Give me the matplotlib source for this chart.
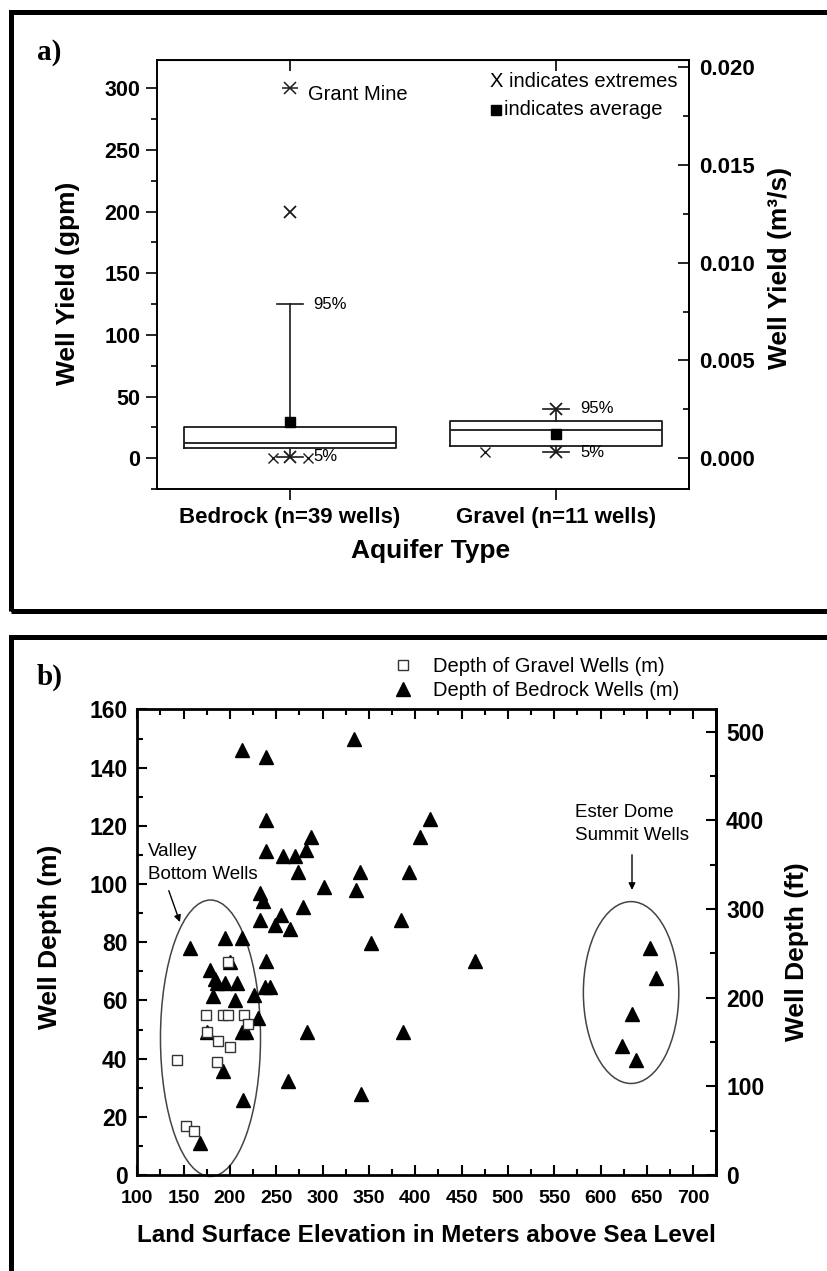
import numpy as np
import matplotlib
matplotlib.use('Agg')
import matplotlib.pyplot as plt
from matplotlib.patches import Ellipse, Rectangle
from matplotlib.ticker import MultipleLocator, FormatStrFormatter

plt.rcParams['font.family'] = ['Liberation Sans', 'DejaVu Sans']

# ---- panel a: well yield by aquifer type (gpm) ----
aquifers = ['Bedrock (n=39 wells)', 'Gravel (n=11 wells)']
positions = [1, 2]
p5 = [1, 5]
q25 = [8, 10]
median = [12, 23]
q75 = [25, 30]
p95 = [125, 40]
mean_yield = [29, 20]
# single extreme wells, drawn as x
ext_x = [0.935, 1.066, 1.0, 1.733]
ext_y = [0, 0, 200, 5]
grant_mine = 300

GPM_TO_M3S = 6.309e-5
M_TO_FT = 1 / 0.3048

# ---- panel b: well depth vs. land surface elevation ----
gravel_elev = [198, 174, 193, 198, 215, 220, 175, 187, 200, 185.5, 143, 153, 161]
gravel_depth = [73.3, 55, 55, 55, 55, 52, 49, 46, 44, 38.7, 39.5, 17, 15]

bedrock_elev = [213, 239, 333.5, 239, 239, 257, 270, 287, 282.5, 274, 302, 232, 236, 279,
                340, 336, 393, 405, 416, 385, 255.6, 232, 249, 264.5, 157, 194.5, 212.5,
                352, 464, 239.4, 200, 178, 183.7, 185.5, 194.5, 208, 237.6, 243.7, 182,
                205, 226, 230, 175, 212.5, 217, 283, 386.6, 192.7, 263, 341.4, 214, 167.6,
                653.5, 660, 634.5, 623, 638]
bedrock_depth = [146, 143.5, 149.7, 122, 111.4, 109.6, 109.6, 116.3, 111.7, 104, 99, 97, 94, 92,
                 104, 98, 104, 116.3, 122.2, 87.6, 89.3, 87.5, 86, 84.4, 78, 81.3, 81.3,
                 79.6, 73.5, 73.5, 73.3, 70.4, 67.4, 65.9, 65.9, 65.9, 64.5, 64.5, 61.6,
                 60, 62, 53.8, 49, 49, 49, 49, 49, 35.7, 32.3, 27.7, 25.8, 10.9,
                 78, 67.6, 55.2, 44.5, 39.5]

fig = plt.figure(figsize=(8.27, 12.71), dpi=100)
W, H = 827, 1271

# outer frames of the two panels
for top, bot in [(12.5, 611), (637.5, 1300)]:
    fig.add_artist(Rectangle((10.5 / W, 1 - bot / H), 1.2, (bot - top) / H,
                             transform=fig.transFigure, fill=False, ec='black',
                             lw=3.6, clip_on=False))

fig.text(37 / W, 1 - 53 / H, 'a)', family='Liberation Serif', weight='bold',
         fontsize=21, va='center', ha='left')
fig.text(37 / W, 1 - 677 / H, 'b)', family='Liberation Serif', weight='bold',
         fontsize=21, va='center', ha='left')

# ================= panel a =================
axa = fig.add_axes([157 / W, 1 - 489 / H, 532 / W, 429 / H])
stats = []
for i in range(2):
    stats.append(dict(med=median[i], q1=q25[i], q3=q75[i], whislo=p5[i],
                      whishi=p95[i], mean=mean_yield[i], fliers=[]))
lc = '#1a1a1a'
axa.bxp(stats, positions=positions, widths=0.8, capwidths=0.1, showmeans=True,
        showfliers=False,
        boxprops=dict(color=lc, lw=1.3), medianprops=dict(color=lc, lw=1.3),
        whiskerprops=dict(color=lc, lw=1.2), capprops=dict(color=lc, lw=1.2),
        meanprops=dict(marker='s', mfc='black', mec='black', ms=7.5))

# asterisks at percentile caps and Grant Mine
axa.plot([1, 2, 2], [p5[0], p5[1], p95[1]], 'x', color=lc, ms=8, mew=1.3)
axa.plot(1, grant_mine, 'x', color=lc, ms=8, mew=1.1)
axa.plot(1, grant_mine, '_', color=lc, ms=11, mew=1.1)
axa.plot(ext_x[:2], ext_y[:2], 'x', color=lc, ms=7, mew=1)
axa.plot(ext_x[2:3], ext_y[2:3], 'x', color=lc, ms=9, mew=1.3)
axa.plot(ext_x[3:], ext_y[3:], 'x', color=lc, ms=7, mew=1)

note = dict(fontsize=12, va='center', ha='left')
axa.text(1.086, p95[0], '95%', **note)
axa.text(1.088, p5[0], '5%', **note)
axa.text(2.09, p95[1], '95%', **note)
axa.text(2.09, p5[1] - 0.5, '5%', **note)
axa.text(1.066, 295, 'Grant Mine', fontsize=14.5, va='center', ha='left')
axa.text(1.75, 305.5, 'X indicates extremes', fontsize=14.5, va='center', ha='left')
axa.plot(1.774, 282.7, 's', color='black', ms=7)
axa.text(1.805, 282.7, 'indicates average', fontsize=14.5, va='center', ha='left')

axa.set_xlim(0.5, 2.5)
axa.set_ylim(-25, 323)
axa.set_xticks(positions, aquifers)
axa.set_yticks(range(0, 301, 50))
axa.yaxis.set_minor_locator(MultipleLocator(25))
axa.tick_params(axis='x', direction='out', length=8, width=1.2, labelsize=16, pad=5)
axa.tick_params(axis='y', which='major', direction='out', length=8, width=1.2,
                labelsize=15.5, pad=4)
axa.tick_params(axis='y', which='minor', direction='out', length=4.5, width=1.2)
for lab in axa.get_xticklabels() + axa.get_yticklabels():
    lab.set_fontweight('bold')
for s in axa.spines.values():
    s.set_linewidth(1.4)

topa = axa.secondary_xaxis('top')
topa.set_xticks(positions, ['', ''])
topa.tick_params(direction='in', length=8, width=1.2)

righta = axa.secondary_yaxis('right', functions=(lambda g: g * GPM_TO_M3S,
                                                  lambda m: m / GPM_TO_M3S))
righta.set_yticks([0, 0.005, 0.010, 0.015, 0.020])
righta.yaxis.set_minor_locator(MultipleLocator(0.0025))
righta.yaxis.set_major_formatter(FormatStrFormatter('%.3f'))
righta.tick_params(which='major', direction='in', length=8, width=1.2, labelsize=16, pad=7)
righta.tick_params(which='minor', direction='in', length=4.5, width=1.2)
for lab in righta.get_yticklabels():
    lab.set_fontweight('bold')
righta.spines['right'].set_linewidth(1.4)

axa.set_ylabel('Well Yield (gpm)', fontsize=19, fontweight='bold', va='center')
axa.yaxis.set_label_coords(-0.167, 0.48)
fig.text(780 / W, 1 - 268 / H, 'Well Yield (m³/s)', fontsize=19, fontweight='bold',
         rotation=90, va='center', ha='center')
axa.set_xlabel('Aquifer Type', fontsize=19, fontweight='bold', va='center')
axa.xaxis.set_label_coords(0.515, -0.1445)

# ================= panel b =================
axb = fig.add_axes([137.3 / W, 1 - 1175 / H, 579 / W, 465.6 / H])
hb, = axb.plot(bedrock_elev, bedrock_depth, '^', color='black', ms=9.5, ls='none',
               label='Depth of Bedrock Wells (m)')
hg, = axb.plot(gravel_elev, gravel_depth, 's', ms=6.5, mfc='white', mec='#333333',
               mew=1, ls='none', label='Depth of Gravel Wells (m)')

axb.add_patch(Ellipse((179, 47), 108, 95, fill=False, ec='#444444', lw=1.1, clip_on=False))
axb.add_patch(Ellipse((633, 62.7), 103, 62.5, fill=False, ec='#444444', lw=1.1))
axb.annotate('', xy=(147, 86), xytext=(133, 98.6),
             arrowprops=dict(arrowstyle='-|>', color='black', lw=1, mutation_scale=10))
axb.annotate('', xy=(634, 97), xytext=(634, 111),
             arrowprops=dict(arrowstyle='-|>', color='black', lw=1, mutation_scale=10))
axb.text(112, 107.2, 'Valley\nBottom Wells', fontsize=13.5, va='center', ha='left',
         linespacing=1.45)
axb.text(572, 120.6, 'Ester Dome\nSummit Wells', fontsize=13.5, va='center', ha='left',
         linespacing=1.45)

axb.legend(handles=[hg, hb], loc='upper left', bbox_to_anchor=(0.4416, 1.112),
           frameon=False, fontsize=14.5, handlelength=1.0, handletextpad=1.0,
           borderpad=0, borderaxespad=0, labelspacing=0.25)

axb.set_xlim(100, 725)
axb.set_ylim(0, 160)
axb.set_xticks(range(100, 701, 50))
axb.xaxis.set_minor_locator(MultipleLocator(25))
axb.set_yticks(range(0, 161, 20))
axb.yaxis.set_minor_locator(MultipleLocator(10))
axb.tick_params(which='both', direction='in', top=True, right=False, width=1.5)
axb.tick_params(which='major', length=7)
axb.tick_params(which='minor', length=4)
axb.tick_params(axis='x', labelsize=14, pad=11)
axb.tick_params(axis='y', labelsize=16.5, pad=7)
for lab in axb.get_xticklabels() + axb.get_yticklabels():
    lab.set_fontweight('bold')
for s in axb.spines.values():
    s.set_linewidth(2)

rightb = axb.secondary_yaxis('right', functions=(lambda m: m * M_TO_FT,
                                                  lambda f: f / M_TO_FT))
rightb.set_yticks(range(0, 501, 100))
rightb.yaxis.set_minor_locator(MultipleLocator(50))
rightb.tick_params(which='both', direction='in', width=1.5, labelsize=16.5, pad=7)
rightb.tick_params(which='major', length=7)
rightb.tick_params(which='minor', length=4)
for lab in rightb.get_yticklabels():
    lab.set_fontweight('bold')
rightb.spines['right'].set_linewidth(2)

axb.set_ylabel('Well Depth (m)', fontsize=19, fontweight='bold', va='center')
axb.yaxis.set_label_coords(-0.150, (1175 - 937) / 465.6)
fig.text(797 / W, 1 - 952 / H, 'Well Depth (ft)', fontsize=19, fontweight='bold',
         rotation=90, va='center', ha='center')
axb.set_xlabel('Land Surface Elevation in Meters above Sea Level', fontsize=17.5,
               fontweight='bold', va='center')
axb.xaxis.set_label_coords(0.499, -0.129)

fig.savefig('out.png', dpi=100)
